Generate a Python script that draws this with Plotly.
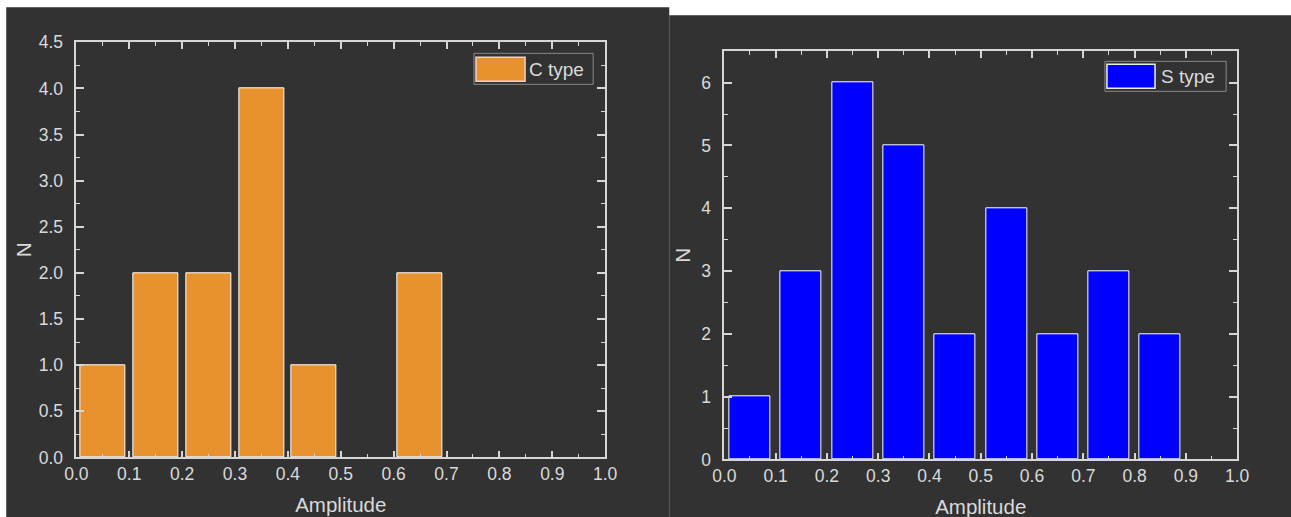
import plotly.graph_objects as go

# ---- data ----
c_bin_centers = [0.05, 0.15, 0.25, 0.35, 0.45, 0.55, 0.65]
c_counts = [1, 2, 2, 4, 1, 0, 2]
s_bin_centers = [0.05, 0.15, 0.25, 0.35, 0.45, 0.55, 0.65, 0.75, 0.85]
s_counts = [1, 3, 6, 5, 2, 4, 2, 3, 2]
c_name = "C type"
s_name = "S type"
x_title = "Amplitude"
y_title = "N"

# ---- page geometry (compensate page margin / capture scaling) ----
OFF = 8
SX, SY = 0.985, 0.962
W = round(1291 / SX - OFF)
H = round(517 / SY - OFF)

BG = "#323232"
AX = "#d6d6d6"
TXT = "#dadada"
ORANGE = "#E8922F"
BLUE = "#0000FF"
FONT = "Liberation Sans"

def px(x):
    x = (x - 2.9) / 0.995
    return (x / SX - OFF) / W

def py(y):
    y = y - 2
    return 1 - (y / SY - OFF) / H

fig = go.Figure()
fig.add_trace(go.Bar(x=c_bin_centers, y=c_counts, width=0.085, name=c_name,
                     marker=dict(color=ORANGE,
                                 line=dict(color="white", width=[1 if v else 0 for v in c_counts])),
                     xaxis="x", yaxis="y", showlegend=False))
fig.add_trace(go.Bar(x=s_bin_centers, y=s_counts, width=0.08, name=s_name,
                     marker=dict(color=BLUE,
                                 line=dict(color="white", width=[1 if v else 0 for v in s_counts])),
                     xaxis="x2", yaxis="y2", showlegend=False))

def xaxis(domain, anchor):
    return dict(domain=domain, anchor=anchor, range=[0, 1.0], dtick=0.1, tick0=0,
                tickformat=".1f", ticks="inside", ticklen=7, tickwidth=1.5, tickcolor=AX,
                minor=dict(ticks="inside", ticklen=4, dtick=0.05, tickcolor=AX, tickwidth=1.2),
                showline=True, linecolor=AX, linewidth=1.5, mirror="ticks",
                showgrid=False, zeroline=False, ticklabelstandoff=0,
                tickfont=dict(family=FONT, size=17.5, color=TXT),
                title=dict(text=x_title, font=dict(family=FONT, size=20.5, color=TXT), standoff=15))

def yaxis(domain, anchor, rng, dt, fmt, standoff):
    return dict(domain=domain, anchor=anchor, range=rng, dtick=dt, tick0=0,
                tickformat=fmt, ticks="inside", ticklen=8, tickwidth=1.5, tickcolor=AX,
                minor=dict(ticks="inside", ticklen=4, dtick=dt / 2, tickcolor=AX, tickwidth=1.2),
                showline=True, linecolor=AX, linewidth=1.5, mirror="ticks",
                showgrid=False, zeroline=False, ticklabelstandoff=8,
                tickfont=dict(family=FONT, size=17.5, color=TXT),
                title=dict(text=y_title, font=dict(family=FONT, size=20.5, color=TXT), standoff=standoff))

shapes = [
    dict(type="rect", xref="paper", yref="paper", x0=px(5), x1=px(667), y0=py(530), y1=py(7),
         fillcolor=BG, line=dict(width=0), layer="below"),
    dict(type="rect", xref="paper", yref="paper", x0=px(667), x1=px(1300), y0=py(530), y1=py(15),
         fillcolor=BG, line=dict(width=0), layer="below"),
    # legend boxes
    dict(type="rect", xref="paper", yref="paper", x0=px(472), x1=px(591), y0=py(84), y1=py(53),
         fillcolor=BG, line=dict(color="#8a8a8a", width=1)),
    dict(type="rect", xref="paper", yref="paper", x0=px(474), x1=px(523), y0=py(81), y1=py(57),
         fillcolor=ORANGE, line=dict(color="#f4d0c8", width=1.5)),
    dict(type="rect", xref="paper", yref="paper", x0=px(1102), x1=px(1223), y0=py(91), y1=py(61),
         fillcolor=BG, line=dict(color="#8a8a8a", width=1)),
    dict(type="rect", xref="paper", yref="paper", x0=px(1104), x1=px(1152), y0=py(88), y1=py(64),
         fillcolor=BLUE, line=dict(color="#e8f0e0", width=1.5)),
]
annotations = [
    dict(text=c_name, xref="paper", yref="paper", x=px(525), y=py(69), xanchor="left",
         yanchor="middle", showarrow=False, font=dict(family=FONT, size=19, color=TXT)),
    dict(text=s_name, xref="paper", yref="paper", x=px(1156), y=py(76), xanchor="left",
         yanchor="middle", showarrow=False, font=dict(family=FONT, size=19, color=TXT)),
]

fig.update_layout(
    width=W, height=H, margin=dict(l=0, r=0, t=0, b=0),
    paper_bgcolor="white", plot_bgcolor=BG,
    bargap=0,
    xaxis=xaxis([px(75), px(603)], "y"),
    yaxis=yaxis([py(457), py(42)], "x", [0, 4.5], 0.5, ".1f", 2),
    xaxis2=xaxis([px(722), px(1234)], "y2"),
    yaxis2=yaxis([py(459), py(51)], "x2", [0, 6.5], 1, "d", 5),
    shapes=shapes, annotations=annotations,
)

fig.write_html("out.html")
